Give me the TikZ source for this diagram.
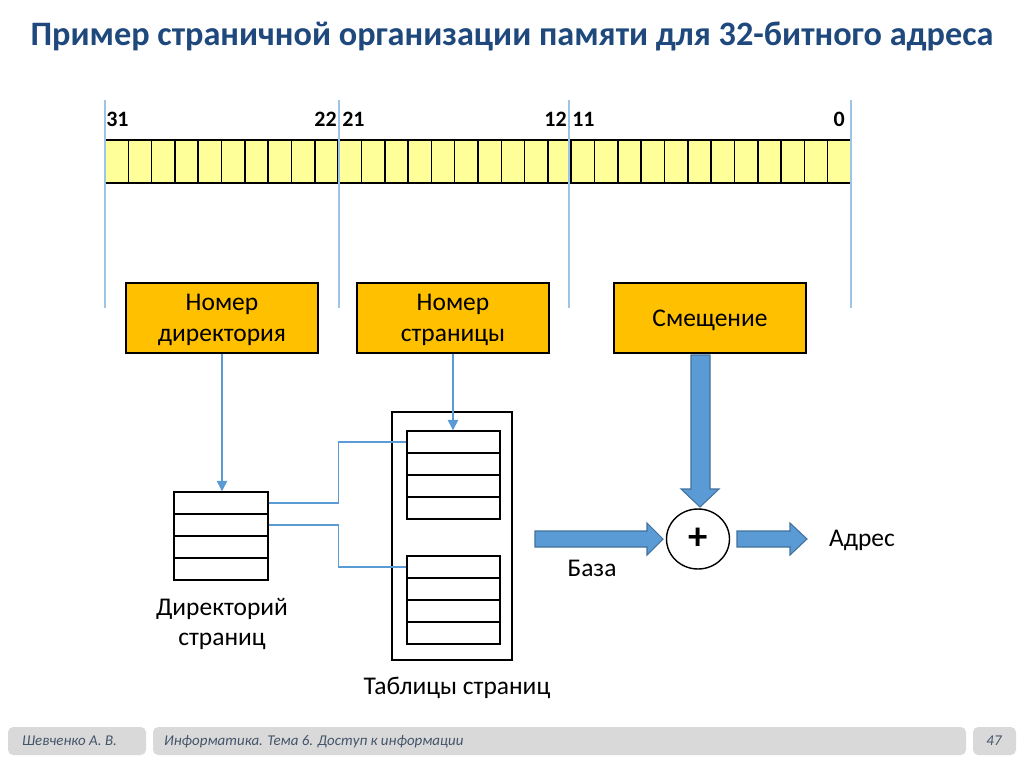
\documentclass[tikz,border=0pt]{standalone}
\usepackage{fontspec}
\setmainfont{Carlito}
\usetikzlibrary{positioning,arrows.meta,shapes.geometric}

\definecolor{titleblue}{HTML}{1F497D}
\definecolor{bityellow}{HTML}{FFFF99}
\definecolor{fieldorange}{HTML}{FFC000}
\definecolor{guideblue}{HTML}{9DC3E6}
\definecolor{linkblue}{HTML}{5B9BD5}
\definecolor{arrowedge}{HTML}{41719C}
\definecolor{footgrey}{HTML}{D9D9D9}
\definecolor{foottext}{HTML}{44546A}

\begin{document}
\begin{tikzpicture}[x=0.02cm,y=-0.02cm,
  body/.style={font=\fontsize{14.5}{17.6}\selectfont},
  field/.style={draw=black,line width=0.8pt,fill=fieldorange,minimum width=3.84cm,minimum height=1.4cm,align=center,text depth=0pt,body},
  dirrow/.style={draw=black,line width=0.8pt,minimum width=1.88cm,minimum height=0.44cm,inner sep=0pt},
  tabrow/.style={draw=black,line width=0.8pt,minimum width=1.86cm,minimum height=0.44cm,inner sep=0pt},
  bitnum/.style={font=\fontsize{12.5}{14}\selectfont\bfseries},
  guide/.style={guideblue,line width=0.6pt},
  link/.style={linkblue,line width=0.7pt},
  barrow/.style={fill=linkblue,draw=arrowedge,line width=0.6pt,line join=miter},
  footbox/.style={fill=footgrey,rounded corners=3pt,draw=none},
  foot/.style={text=foottext,font=\fontsize{8.5}{10}\selectfont\itshape}]
\useasboundingbox[fill=white] (0,0) rectangle (1024,767);

% title
\node[anchor=base,text=titleblue,font=\fontsize{19.5}{24}\selectfont\bfseries] (title) at (512,46) {Пример страничной организации памяти для 32-битного адреса};

% address register
\foreach \i in {0,...,31}
  \draw[fill=bityellow,line width=0.9pt] ({105+\i*23.3125},140) rectangle ({105+(\i+1)*23.3125},183);
\draw[guide] (105,100) -- (105,308);
\draw[guide] (339,100) -- (339,308);
\draw[guide] (569,100) -- (569,308);
\draw[guide] (851,100) -- (851,308);
\node[bitnum,anchor=base west,inner sep=0pt] (b31) at (106,127) {31};
\node[bitnum,anchor=base east,inner sep=0pt] (b22) at (337,127) {22};
\node[bitnum,anchor=base west,inner sep=0pt] (b21) at (342,127) {21};
\node[bitnum,anchor=base east,inner sep=0pt] (b12) at (567,127) {12};
\node[bitnum,anchor=base west,inner sep=0pt] (b11) at (572,127) {11};
\node[bitnum,anchor=base east,inner sep=0pt] (b0) at (845,127) {0};

% fields
\node[field] (dirno) at (222,318) {Номер\\директория};
\node[field] (pageno) at (453,318) {Номер\\страницы};
\node[field] (offset) at (710,318) {Смещение};

% page directory
\node[dirrow] (d1) at (221,503) {};
\node[dirrow] (d2) at (221,525) {};
\node[dirrow] (d3) at (221,547) {};
\node[dirrow] (d4) at (221,569) {};
\node[body,align=center] (dirlabel) at (222,624) {Директорий\\страниц};

% page tables
\node[draw=black,line width=0.8pt,minimum width=2.4cm,minimum height=4.96cm,inner sep=0pt] (tables) at (452,536) {};
\node[tabrow] (t1) at (453.5,442) {};
\node[tabrow] (t2) at (453.5,464) {};
\node[tabrow] (t3) at (453.5,486) {};
\node[tabrow] (t4) at (453.5,508) {};
\node[tabrow] (u1) at (453.5,567) {};
\node[tabrow] (u2) at (453.5,589) {};
\node[tabrow] (u3) at (453.5,611) {};
\node[tabrow] (u4) at (453.5,633) {};
\node[body] (tablabel) at (457,688) {Таблицы страниц};

% thin links
\draw[link,-{Triangle[width=6pt,length=6pt]}] (dirno.south) -- (dirno.south |- d1.north);
\draw[link,-{Triangle[width=6pt,length=6pt]}] (pageno.south) -- (pageno.south |- t1.north);
\draw[link] (d1.east) -- ++(70,0) |- (t1.west);
\draw[link] (d2.east) -- ++(70,0) |- (u1.west);

% adder
\node[draw=black,line width=0.8pt,ellipse,minimum width=1.26cm,minimum height=1.2cm,inner sep=0pt,font=\fontsize{22}{24}\selectfont\bfseries] (sum) at (698,539) {+};
\draw[barrow] (691,355) -- (710,355) -- (710,489) -- (719,489) -- (700,507) -- (681,489) -- (691,489) -- cycle;
\draw[barrow] (535,531) -- (647,531) -- (647,523) -- (663,539) -- (647,555) -- (647,547) -- (535,547) -- cycle;
\draw[barrow] (737,531) -- (790,531) -- (790,523) -- (807,539) -- (790,555) -- (790,547) -- (737,547) -- cycle;
\node[body] (base) at (592,568) {База};
\node[body] (addr) at (862,540) {Адрес};

% footer
\fill[footbox] (8,727) rectangle (146,755);
\fill[footbox] (153,727) rectangle (966,755);
\fill[footbox] (973,727) rectangle (1016,755);
\node[foot,anchor=base west] (author) at (16,745) {Шевченко А. В.};
\node[foot,anchor=base west] (topic) at (158,745) {Информатика. Тема 6. Доступ к информации};
\node[foot,anchor=base] (pageno47) at (994,745) {47};
\end{tikzpicture}
\end{document}
